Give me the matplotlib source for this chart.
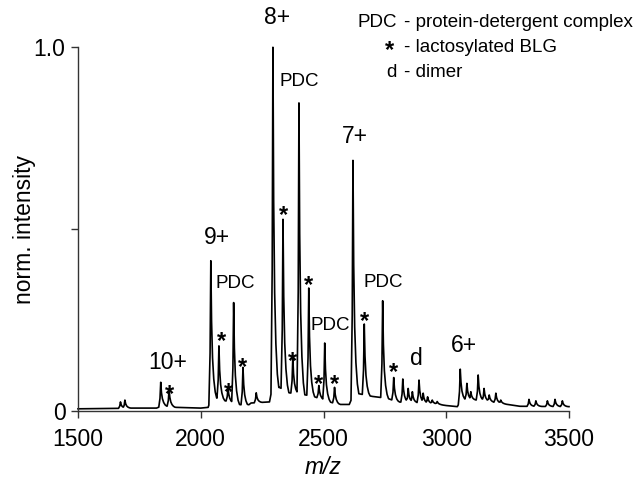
import numpy as np
import matplotlib
matplotlib.use("Agg")
import matplotlib.pyplot as plt

plt.rcParams['font.family'] = ['Liberation Sans', 'DejaVu Sans']

# ---- data ----
peak_mz = [1673, 1691, 1837, 1871, 2041, 2074, 2111, 2134, 2172, 2226,
           2294, 2335, 2375, 2400, 2440, 2481, 2505, 2545,
           2620, 2666, 2741, 2786, 2823, 2845, 2862, 2889, 2906, 2924, 2943, 2963,
           3057, 3084, 3100, 3130, 3154, 3175, 3202, 3222,
           3337, 3365, 3412, 3443, 3473]
peak_int = [0.025, 0.030, 0.079, 0.059, 0.413, 0.179, 0.065, 0.298, 0.120, 0.050,
            1.000, 0.527, 0.147, 0.847, 0.338, 0.070, 0.187, 0.065,
            0.689, 0.239, 0.303, 0.092, 0.088, 0.062, 0.053, 0.085, 0.049, 0.039, 0.030, 0.026,
            0.115, 0.076, 0.053, 0.099, 0.062, 0.044, 0.049, 0.030,
            0.032, 0.028, 0.028, 0.032, 0.028]

base_mz = [1500, 1650, 1700, 1820, 1845, 1900, 2000, 2030, 2045, 2090, 2140, 2190,
           2205, 2280, 2290, 2320, 2360, 2420, 2460, 2500, 2560, 2605, 2625, 2700,
           2760, 2800, 2950, 3000, 3045, 3060, 3130, 3230, 3300, 3500]
base_int = [0.006, 0.007, 0.008, 0.008, 0.015, 0.010, 0.008, 0.010, 0.040, 0.030, 0.020, 0.014,
            0.022, 0.025, 0.060, 0.065, 0.050, 0.045, 0.040, 0.030, 0.018, 0.018, 0.050, 0.040,
            0.035, 0.025, 0.020, 0.015, 0.012, 0.030, 0.030, 0.020, 0.013, 0.012]

# peak line shape (m/z offset from apex, fraction of height above baseline)
shape_dx = [-8, -3, 0, 3, 7, 12, 18, 24]
shape_fr = [0, 0.35, 1, 0.55, 0.28, 0.13, 0.04, 0]

charge_labels = ['10+', '9+', '8+', '7+', '6+']
charge_pos = [(1864, 0.133), (2066, 0.476), (2309, 1.083), (2629, 0.755), (3073, 0.181)]
pdc_pos = [(2141, 0.351), (2402, 0.907), (2529, 0.234), (2744, 0.353)]
star_pos = [(1873, 0.060), (2083, 0.206), (2114, 0.067), (2172, 0.136), (2336, 0.554),
            (2375, 0.151), (2439, 0.362), (2480, 0.090), (2545, 0.090), (2665, 0.261),
            (2785, 0.122)]
dimer_pos = (2880, 0.143)

legend_keys = ['PDC', '*', 'd']
legend_desc = ['- protein-detergent complex', '- lactosylated BLG', '- dimer']

# ---- build profile ----
pm = np.array(peak_mz, float)
ph = np.array(peak_int, float)
bx = np.array(base_mz, float)
by = np.array(base_int, float)
dx = np.array(shape_dx, float)
fr = np.array(shape_fr, float)

xs = np.unique(np.concatenate([bx] + [c + dx for c in pm]))
xs = xs[(xs >= 1500) & (xs <= 3500)]
base_at = np.interp(xs, bx, by)
ys = base_at.copy()
for c, h in zip(pm, ph):
    b0 = np.interp(c, bx, by)
    contrib = base_at + (h - b0) * np.interp(xs - c, dx, fr, left=0, right=0)
    ys = np.maximum(ys, contrib)

W, H = 633, 483
fig = plt.figure(figsize=(W / 100, H / 100), dpi=100)
ax = fig.add_axes([78 / W, 1 - 411 / H, (569 - 78) / W, (411 - 47.3) / H])
ax.plot(xs, ys, color='black', lw=1.2, clip_on=False)

ax.set_xlim(1500, 3500)
ax.set_ylim(0, 1.0)
ax.set_xticks([1500, 2000, 2500, 3000, 3500])
ax.set_yticks([0, 0.5, 1.0])
ax.set_yticklabels(['0', '', '1.0'])
for s in ['top', 'right']:
    ax.spines[s].set_visible(False)
for s in ['left', 'bottom']:
    ax.spines[s].set_color('#333333')
    ax.spines[s].set_linewidth(1.0)
ax.tick_params(direction='out', length=5, width=1.0, color='#333333',
               labelsize=16.5)
ax.tick_params(axis='x', pad=7)
ax.tick_params(axis='y', pad=4)
ax.set_xlabel('m/z', fontsize=16.5, style='italic', labelpad=4)
ax.set_ylabel('norm. intensity', fontsize=16.5)
ax.yaxis.set_label_coords(-0.086, 0.5)

for lab, (x, y) in zip(charge_labels, charge_pos):
    ax.text(x, y, lab, fontsize=16.5, ha='center', va='center', clip_on=False)
for x, y in pdc_pos:
    ax.text(x, y, 'PDC', fontsize=13.5, ha='center', va='center')
for x, y in star_pos:
    ax.text(x, y - 0.016, '*', fontsize=17, fontweight='bold', ha='center', va='center')
ax.text(dimer_pos[0], dimer_pos[1], 'd', fontsize=16.5, ha='center', va='center')

leg_y = [27, 52, 77]
for k, d, y in zip(legend_keys, legend_desc, leg_y):
    if k == '*':
        fig.text(394 / W, 1 - (y + 5) / H, k, fontsize=17, fontweight='bold',
                 ha='right', va='baseline')
    else:
        fig.text(397 / W, 1 - y / H, k, fontsize=13.5, ha='right', va='baseline')
    fig.text(404 / W, 1 - y / H, d, fontsize=13.5, ha='left', va='baseline')

fig.savefig('out.png', dpi=100)
